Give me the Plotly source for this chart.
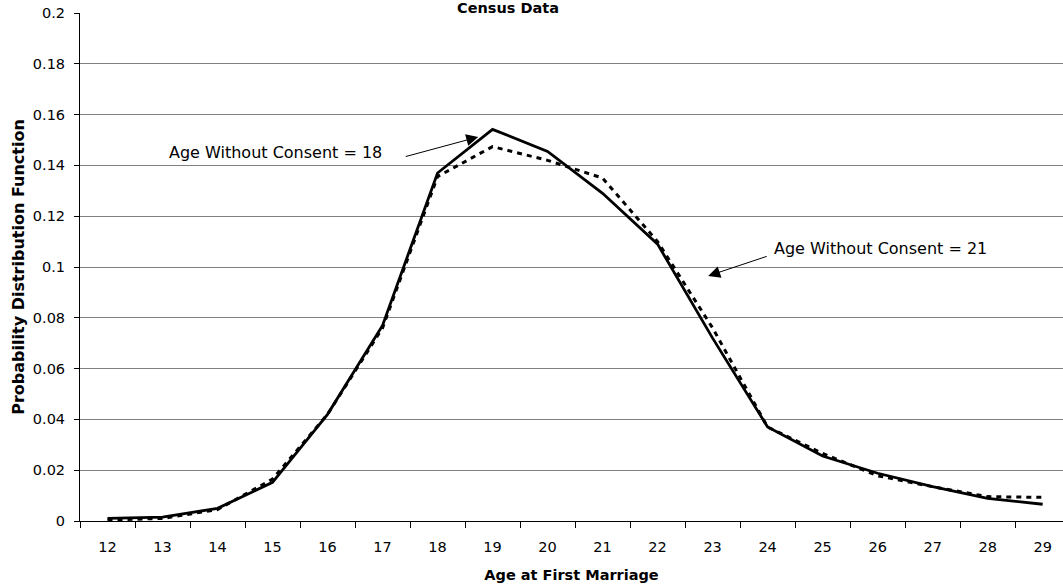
"""Census data: age at first marriage PDF for two consent ages."""

import plotly.graph_objects as go

# ── Data ───────────────────────────────────────────────────────────────────────
AGES = [str(a) for a in range(12, 30)]
PDF_CONSENT_18 = [0.001, 0.0015, 0.005, 0.0152, 0.042, 0.077, 0.137, 0.1542, 0.1455,
                  0.129, 0.109, 0.072, 0.037, 0.0256, 0.0188, 0.0135, 0.0089, 0.0066]
PDF_CONSENT_21 = [0.0004, 0.001, 0.0045, 0.0165, 0.042, 0.076, 0.1356, 0.1474, 0.142,
                  0.135, 0.110, 0.076, 0.037, 0.0266, 0.0178, 0.0135, 0.0096, 0.0093]
Y_TICKS = [0, 0.02, 0.04, 0.06, 0.08, 0.1, 0.12, 0.14, 0.16, 0.18, 0.2]
Y_TICK_TEXT = ["0", "0.02", "0.04", "0.06", "0.08", "0.1", "0.12", "0.14", "0.16", "0.18", "0.2"]

FONT = "DejaVu Sans, Verdana, sans-serif"

fig = go.Figure()
fig.add_trace(go.Scatter(
    x=AGES, y=PDF_CONSENT_21, mode="lines", name="Age Without Consent = 21",
    line=dict(color="black", width=3, dash="5px,5px"),
))
fig.add_trace(go.Scatter(
    x=AGES, y=PDF_CONSENT_18, mode="lines", name="Age Without Consent = 18",
    line=dict(color="black", width=2.8),
))

# arrows (tip in data coords, tail in pixel offsets)
fig.add_annotation(x=6.74, y=0.1512, ax=-74, ay=20, text="", showarrow=True,
                   arrowhead=2, arrowsize=2.4, arrowwidth=1, arrowcolor="black")
fig.add_annotation(x=10.92, y=0.0965, ax=60, ay=-20, text="", showarrow=True,
                   arrowhead=2, arrowsize=2.4, arrowwidth=1, arrowcolor="black")
fig.add_annotation(x=1.08, y=0.1449, text="Age Without Consent = 18", showarrow=False,
                   xanchor="left", yanchor="middle", font=dict(family=FONT, size=16, color="black"))
fig.add_annotation(x=12.08, y=0.1071, text="Age Without Consent = 21", showarrow=False,
                   xanchor="left", yanchor="middle", font=dict(family=FONT, size=16, color="black"))

# title squeezed into the thin strip above the plot
fig.add_annotation(x=0.435, y=1.0, xref="paper", yref="paper", text="<b>Census Data</b>",
                   showarrow=False, xanchor="center", yanchor="middle", yshift=5,
                   font=dict(family=FONT, size=14.5, color="black"))

fig.update_layout(
    width=1063, height=584,
    paper_bgcolor="white", plot_bgcolor="white",
    font=dict(family=FONT, size=14.5, color="black"),
    margin=dict(l=80, r=0, t=13, b=63),
    showlegend=False,
    xaxis=dict(
        type="category", range=[-0.5, 17.37], tickson="boundaries",
        showgrid=False, ticks="outside", ticklen=6, tickcolor="black",
        ticklabelstandoff=13,
        showline=True, linecolor="black", linewidth=1,
        title=dict(text="<b>Age at First Marriage</b>", font=dict(size=14.5), standoff=15),
    ),
    yaxis=dict(
        range=[0, 0.2], tickvals=Y_TICKS, ticktext=Y_TICK_TEXT,
        showgrid=True, gridcolor="#808080", gridwidth=1,
        ticks="outside", ticklen=5, tickcolor="black", ticklabelstandoff=6,
        showline=True, linecolor="black", linewidth=1, zeroline=False,
        title=dict(text="<b>Probability Distribution Function</b>", font=dict(size=16), standoff=4),
    ),
)

# drop the browser's default 8px body margin so the figure sits at the page corner
fig.write_html("out.html", config={"displayModeBar": False},
               post_script="document.body.style.margin='0px';")
